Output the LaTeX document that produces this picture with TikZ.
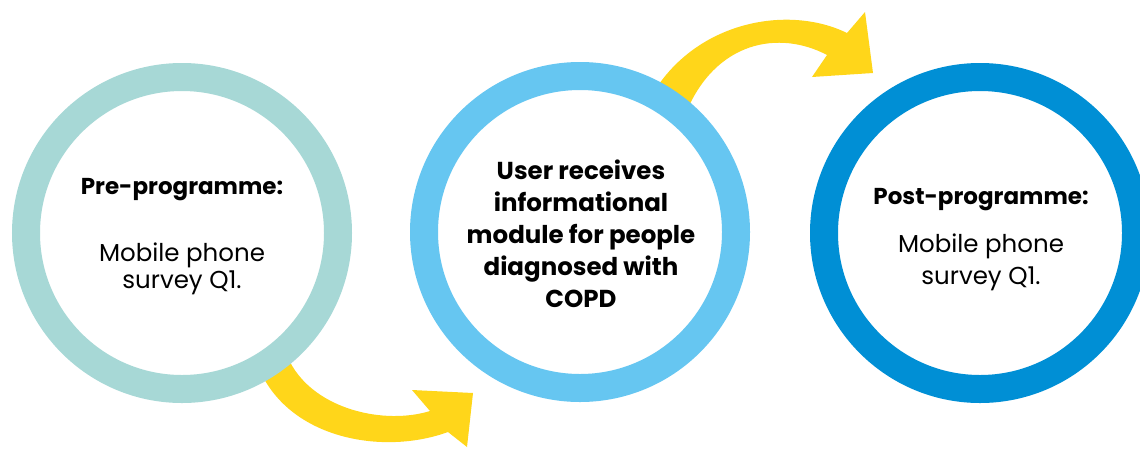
\documentclass[tikz,border=0pt]{standalone}
\usepackage{fontspec}
\setmainfont{Poppins}
\definecolor{ringteal}{HTML}{A7D8D6}
\definecolor{ringlight}{HTML}{66C6F1}
\definecolor{ringdark}{HTML}{008FD5}
\definecolor{arrowyellow}{HTML}{FFD61A}
\tikzset{
  ring/.style={circle, fill=white, line width=28pt, minimum size=312pt, inner sep=0pt},
  headtext/.style={font=\fontsize{23}{27}\selectfont\bfseries, align=center, text=black},
  bodytext/.style={font=\fontsize{24.5}{27}\selectfont, align=center, text=black},
  bodytextwide/.style={font=\fontsize{24.5}{32}\selectfont, align=center, text=black},
  midtext/.style={font=\fontsize{24.5}{32}\selectfont\bfseries, align=center, text=black},
  bigarrow/.style={fill=arrowyellow, draw=none}
}
\begin{document}
\begin{tikzpicture}[x=1pt,y=-1pt]
\useasboundingbox (0,0) rectangle (1140,448);
\clip (0,0) rectangle (1140,448);
% arrows (behind circles)
\fill[bigarrow] (255,360) -- (262,375) .. controls (295,440) and (385,455) .. (448,432)
  -- (467,447) -- (473,393) -- (412,390) -- (430,411)
  .. controls (385,425) and (315,410) .. (290,362) -- (285,345) -- cycle;
\fill[bigarrow] (650,100) -- (655,90) .. controls (700,20) and (790,5) .. (847,33)
  -- (865,12) -- (873,73) -- (812,77) -- (827,55)
  .. controls (780,30) and (715,40) .. (685,115) -- cycle;
% circles
\node[ring, draw=ringteal] (c1) at (182,233) {};
\node[ring, draw=ringlight] (c2) at (580,232) {};
\node[ring, draw=ringdark] (c3) at (980,233) {};
% texts
\node[headtext] (t1a) at (182,190) {Pre-programme:};
\node[bodytext] (t1b) at (182,269) {Mobile phone\\survey Q1.};
\node[midtext] (t2) at (581,234) {User receives\\informational\\module for people\\diagnosed with\\COPD};
\node[headtext] (t3a) at (981,200) {Post-programme:};
\node[bodytextwide] (t3b) at (981,262) {Mobile phone\\survey Q1.};
\end{tikzpicture}
\end{document}
